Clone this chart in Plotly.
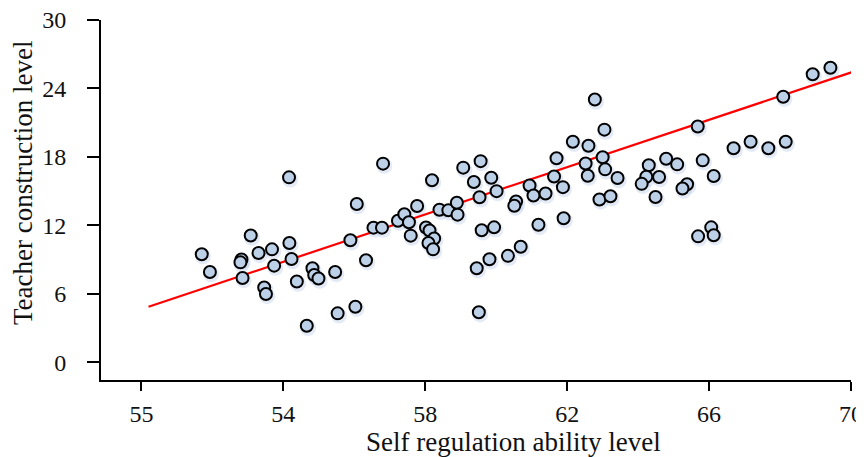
import plotly.graph_objects as go

# Data
self_regulation = [
    51.70, 51.93, 52.82, 52.79, 52.85, 53.08, 53.30, 53.46, 53.51, 53.68,
    53.74, 54.17, 54.23, 54.38, 54.16, 54.82, 54.87, 54.99, 55.46, 54.66,
    55.53, 56.03, 55.89, 56.33, 56.07, 56.54, 56.78, 56.81, 57.23, 57.41,
    57.54, 57.59, 57.77, 58.02, 58.12, 58.25, 58.09, 58.22, 58.19, 58.40,
    58.65, 58.89, 58.91, 59.07, 59.56, 59.37, 59.86, 59.53, 60.01, 59.59,
    59.94, 59.45, 59.81, 60.33, 60.69, 59.51, 60.56, 60.51, 60.94, 61.05,
    61.39, 61.19, 61.63, 61.70, 61.88, 61.90, 62.16, 62.60, 62.78, 63.05,
    62.52, 63.00, 62.58, 63.07, 63.42, 62.91, 63.22, 64.30, 64.23, 64.10,
    64.59, 64.49, 64.79, 65.10, 65.38, 65.25, 65.68, 65.82, 66.13, 65.69,
    66.06, 66.13, 66.69, 67.17, 67.67, 68.16, 68.09, 68.92, 69.42,
]
teacher_construction = [
    9.47, 7.91, 9.01, 8.76, 7.39, 11.11, 9.58, 6.56, 5.99, 9.90,
    8.47, 10.46, 9.05, 7.08, 16.21, 8.24, 7.65, 7.34, 7.91, 3.20,
    4.29, 4.87, 10.70, 8.95, 13.87, 11.80, 11.80, 17.41, 12.41, 12.98,
    12.28, 11.10, 13.70, 11.81, 11.55, 10.85, 10.46, 9.90, 15.95, 13.37,
    13.32, 13.99, 12.94, 17.06, 17.63, 15.80, 16.17, 14.46, 15.00, 11.57,
    11.83, 8.25, 9.03, 9.33, 10.13, 4.39, 14.09, 13.72, 15.50, 14.62,
    14.79, 12.05, 16.28, 17.88, 15.35, 12.62, 19.33, 18.98, 23.03, 20.39,
    17.42, 17.97, 16.35, 16.91, 16.15, 14.27, 14.56, 17.27, 16.26, 15.64,
    16.24, 14.49, 17.84, 17.35, 15.61, 15.23, 20.67, 17.70, 16.33, 11.04,
    11.83, 11.14, 18.76, 19.33, 18.76, 19.33, 23.28, 25.24, 25.81,
]
fit_x = [50.2, 70.05]
fit_y = [4.87, 25.45]

x_tick_vals = [50, 54, 58, 62, 66, 70]
x_tick_text = ["55", "54", "58", "62", "66", "70"]
y_tick_vals = [0, 6, 12, 18, 24, 30]
y_tick_text = ["0", "6", "12", "18", "24", "30"]

x_title = "Self regulation ability level"
y_title = "Teacher construction level"

X_RANGE = [48.86, 70.0]
Y_RANGE = [-1.55, 30.0]

# The page body adds an 8 px offset, so the figure is laid out with that shift.
OFF = 8
W, H = 864, 457 - OFF
M = dict(l=101 - OFF, r=21, t=20 - OFF, b=77)
plot_w = W - M["l"] - M["r"]
plot_h = H - M["t"] - M["b"]
dx = 1.2 * (X_RANGE[1] - X_RANGE[0]) / plot_w
dy = 2.2 * (Y_RANGE[1] - Y_RANGE[0]) / plot_h

FONT = "Liberation Serif, Times New Roman, serif"
TICK_SIZE = 24


def px_to_paper_x(px):
    return (px - OFF - M["l"]) / plot_w


def px_to_paper_y(py):
    return 1 - (py - OFF - M["t"]) / plot_h


fig = go.Figure()
fig.add_trace(go.Scatter(
    x=[v + dx for v in self_regulation], y=[v - dy for v in teacher_construction],
    mode="markers",
    marker=dict(size=16, color="rgba(130,165,215,0.22)", line=dict(width=0)),
    hoverinfo="skip", showlegend=False,
))
fig.add_trace(go.Scatter(
    x=fit_x, y=fit_y, mode="lines",
    line=dict(color="#ff0000", width=2.2), showlegend=False,
))
fig.add_trace(go.Scatter(
    x=self_regulation, y=teacher_construction, mode="markers",
    marker=dict(size=12, color="#bcd0e8", line=dict(color="#000000", width=2)),
    showlegend=False,
))

fig.update_layout(
    width=W, height=H, margin=M,
    paper_bgcolor="white", plot_bgcolor="white",
    font=dict(family=FONT, size=TICK_SIZE, color="#111111"),
    xaxis=dict(
        range=X_RANGE, tickmode="array", tickvals=x_tick_vals, ticktext=x_tick_text,
        showline=True, linecolor="black", linewidth=2,
        ticks="outside", ticklen=9, tickwidth=2, tickcolor="black",
        showgrid=False, zeroline=False, ticklabelstandoff=2, automargin=False,
        tickfont=dict(family=FONT, size=TICK_SIZE), ticklabeloverflow="allow",
    ),
    yaxis=dict(
        range=Y_RANGE, tickmode="array", tickvals=y_tick_vals, ticktext=y_tick_text,
        showline=True, linecolor="black", linewidth=2,
        ticks="outside", ticklen=12, tickwidth=2, tickcolor="black",
        showgrid=False, zeroline=False, ticklabelstandoff=16, automargin=False,
        tickfont=dict(family=FONT, size=TICK_SIZE), ticklabeloverflow="allow",
    ),
    annotations=[
        dict(text=x_title, xref="paper", yref="paper",
             x=px_to_paper_x(513), y=px_to_paper_y(442),
             showarrow=False, xanchor="center", yanchor="middle",
             font=dict(family=FONT, size=27)),
        dict(text=y_title, xref="paper", yref="paper",
             x=px_to_paper_x(23), y=px_to_paper_y(183),
             showarrow=False, xanchor="center", yanchor="middle", textangle=-90,
             font=dict(family=FONT, size=27)),
    ],
)

fig.write_html("out.html")
